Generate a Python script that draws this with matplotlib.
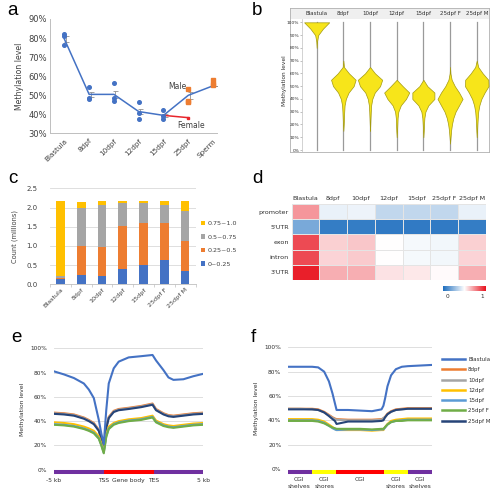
import numpy as np
import matplotlib.pyplot as plt
from matplotlib.colors import LinearSegmentedColormap
from matplotlib.lines import Line2D
from matplotlib.patches import Patch, Rectangle

plt.rcParams['font.family'] = 'DejaVu Sans'

W, H = 500, 493
fig = plt.figure(figsize=(5, 4.93), dpi=100)


def box(l, t, r, b):
    # pixel box -> figure fraction
    return [l / W, 1 - b / H, (r - l) / W, (b - t) / H]


def panel(x, y, s):
    fig.text(x / W, 1 - y / H, s, fontsize=13.5, family='Liberation Sans', va='baseline')


GRID = '#d9d9d9'
TXT = '#404040'

# ---------------- data ----------------
# a
a_stages = ['Blastula', '8dpf', '10dpf', '12dpf', '15dpf', '25dpf', 'Sperm']
a_mean = [79.5, 50.5, 50.5, 41.5, 39.5, 50.0, 55.0]
a_sem = [1.5, 1.2, 1.8, 1.2, 0.8, 2.0, 0.0]
a_reps_blue = [[82.0, 81.0, 76.5], [54.5, 48.5, 48.2], [56.6, 48.5, 47.0],
               [46.5, 40.6, 37.8], [42.3, 39.1, 37.8]]
a_reps_male = [[53.5, 46.5, 46.8], [57.8, 56.2, 55.2]]
a_female = 38.3

# b
b_samples = ['Blastula', '8dpf', '10dpf', '12dpf', '15dpf', '25dpf F', '25dpf M']
b_levels = [0, 5, 10, 15, 20, 25, 30, 35, 40, 45, 50, 55, 60, 65, 70, 75, 80, 85, 90, 95, 100]
b_width = [
    [0, 0, 0, 0, 0, 0, 0, 0, 0, 0, 0, 0, 0, 0, 0, 0, 0, 0.03, 0.12, 0.50, 1.0],
    [0, 0, 0, 0, 0.03, 0.05, 0.07, 0.10, 0.20, 0.42, 0.82, 0.98, 0.45, 0.05, 0, 0, 0, 0, 0, 0, 0],
    [0, 0, 0, 0, 0.02, 0.04, 0.06, 0.09, 0.18, 0.38, 0.80, 0.97, 0.40, 0, 0, 0, 0, 0, 0, 0, 0],
    [0, 0, 0, 0.03, 0.05, 0.07, 0.13, 0.33, 0.74, 1.0, 0.48, 0, 0, 0, 0, 0, 0, 0, 0, 0, 0],
    [0, 0, 0, 0.03, 0.05, 0.08, 0.16, 0.40, 0.88, 0.88, 0.32, 0, 0, 0, 0, 0, 0, 0, 0, 0, 0],
    [0, 0, 0.04, 0.08, 0.15, 0.26, 0.44, 0.72, 1.0, 0.72, 0.38, 0.13, 0.03, 0, 0, 0, 0, 0, 0, 0, 0],
    [0, 0, 0, 0.03, 0.05, 0.08, 0.12, 0.21, 0.37, 0.63, 0.94, 0.92, 0.48, 0.12, 0, 0, 0, 0, 0, 0, 0],
]

# c
c_samples = ['Blastula', '8dpf', '10dpf', '12dpf', '15dpf', '25dpf F', '25dpf M']
c_low = [0.13, 0.25, 0.22, 0.40, 0.49, 0.63, 0.34]
c_midlow = [0.035, 0.75, 0.74, 1.12, 1.11, 0.97, 0.79]
c_midhigh = [0.05, 0.98, 1.10, 0.61, 0.51, 0.46, 0.78]
c_high = [1.95, 0.17, 0.11, 0.04, 0.06, 0.11, 0.26]
c_labels = ['0~0.25', '0.25~0.5', '0.5~0.75', '0.75~1.0']

# d
d_cols = ['Blastula', '8dpf', '10dpf', '12dpf', '15dpf', '25dpf F', '25dpf M']
d_rows = ['promoter', "5'UTR", 'exon', 'intron', "3'UTR"]
d_vals = [
    [0.72, 0.45, 0.46, 0.36, 0.36, 0.36, 0.45],
    [0.20, 0.05, 0.05, 0.04, 0.04, 0.04, 0.05],
    [0.88, 0.60, 0.62, 0.50, 0.48, 0.47, 0.60],
    [0.88, 0.59, 0.61, 0.50, 0.48, 0.47, 0.59],
    [0.97, 0.67, 0.67, 0.56, 0.55, 0.51, 0.67],
]

# e / f
series = ['Blastula', '8dpf', '10dpf', '12dpf', '15dpf', '25dpf F', '25dpf M']
colors = ['#4472c4', '#ed7d31', '#a5a5a5', '#ffc000', '#5b9bd5', '#70ad47', '#264478']

e_pos = [0, 0.2, 0.4, 0.6, 0.7, 0.8, 0.9, 0.95, 1.0, 1.05, 1.1, 1.2, 1.3, 1.5, 1.75, 1.98,
         2.05, 2.2, 2.3, 2.4, 2.6, 2.8, 3.0]
e_vals = {
    'Blastula': [81, 78.5, 75.5, 71, 66, 59, 41, 30, 21, 49, 71, 83.5, 89, 92.5, 93.5, 94.5,
                 90, 82, 76, 74, 74.5, 77, 79],
    '8dpf': [47, 46.5, 45.5, 43, 41, 38.5, 33, 26, 17, 35, 43.5, 48.5, 50, 51, 52.5, 54.5,
             50, 46.5, 45, 44.5, 45.5, 46.5, 47],
    '10dpf': [46.5, 46, 45, 42.5, 40.5, 38, 32.5, 25.5, 16.5, 34.5, 43, 48, 49.5, 50.5, 52, 54,
              49.5, 46, 44.5, 44, 45, 46, 46.5],
    '12dpf': [39, 38.5, 37.5, 35.5, 34, 32, 27.5, 22, 15, 29, 35.5, 38.5, 40, 41.5, 42.5, 44.5,
              40.5, 37.5, 36.5, 36, 37, 38, 38.5],
    '15dpf': [37.5, 37, 36, 34, 32.5, 30.5, 26, 20.5, 14, 27.5, 34, 37.5, 39, 40.5, 41.5, 43.5,
              39.5, 36.5, 35.5, 35, 36, 37, 37.5],
    '25dpf F': [37, 36.5, 35.5, 33.5, 32, 30, 25.5, 20, 13.5, 27, 33.5, 37, 38.5, 40, 41, 43,
                39, 36, 35, 34.5, 35.5, 36.5, 37],
    '25dpf M': [46, 45.5, 44.5, 42, 40, 37.5, 32, 25, 16.5, 34, 42.5, 47.5, 49, 50, 51.5, 53.5,
                49, 45.5, 44, 43.5, 44.5, 45.5, 46],
}
e_bounds = [0, 1, 2, 3]
e_bar = ['#7030a0', '#ff0000', '#7030a0']
e_ticks = [0, 1, 1.5, 2, 3]
e_ticklabels = ['-5 kb', 'TSS', 'Gene body', 'TES', '5 kb']

f_pos = [0, 0.5, 1.0, 1.25, 1.5, 1.7, 1.85, 1.95, 2.02, 2.5, 3.0, 3.5, 3.9, 3.98,
         4.05, 4.15, 4.3, 4.5, 4.75, 5.0, 5.5, 6.0]
f_vals = {
    'Blastula': [84, 84, 84, 83.5, 80, 72, 62, 54, 48.5, 48.5, 48, 47.5, 49, 52,
                 58, 68, 77, 82, 84, 84.5, 85, 85.5],
    '8dpf': [49.5, 49.5, 49.5, 49, 47, 44.5, 42.5, 41.5, 41, 40.5, 40.5, 40.5, 41, 41.5,
             43, 45.5, 47.5, 49, 49.5, 50, 50, 50],
    '10dpf': [49.5, 49.5, 49, 48.5, 46.5, 44, 42, 41, 40.5, 40, 40, 40, 40.5, 42,
              42.5, 45, 47, 48.5, 49, 49.5, 49.5, 49.5],
    '12dpf': [41, 41, 41, 40.5, 39, 36.5, 34.5, 33, 32, 32, 32, 31.5, 32, 32,
              34.5, 37, 39.5, 40.5, 41, 41.5, 41.5, 41.5],
    '15dpf': [40, 40, 40, 39.5, 38, 35.5, 33.5, 32.5, 32, 32.5, 32.5, 32, 32.5, 32.5,
              34, 36.5, 38.5, 39.5, 40, 40.5, 40.5, 40.5],
    '25dpf F': [39.5, 39.5, 39.5, 39, 37.5, 35.5, 34, 33.5, 33, 33, 33, 32.5, 33, 33,
                34.5, 36.5, 38.5, 39.5, 39.5, 40, 40, 40],
    '25dpf M': [49, 49, 49, 48.5, 46.5, 43.5, 41, 39.5, 37, 39, 39, 39, 39.5, 40,
                42.5, 45, 47, 48.5, 49, 49.5, 49.5, 49.5],
}
f_bounds = [0, 1, 2, 4, 5, 6]
f_bar = ['#7030a0', '#ffff00', '#ff0000', '#ffff00', '#7030a0']
f_ticks = [0.45, 1.5, 3, 4.5, 5.5]
f_ticklabels = ['CGI\nshelves', 'CGI\nshores', 'CGI', 'CGI\nshores', 'CGI\nshelves']

# ---------------- a ----------------
ax = fig.add_axes(box(50, 19, 217, 133.5))
x = np.arange(len(a_stages))
ax.plot(x, a_mean, color='#4472c4', lw=1.1, zorder=2)
ax.plot([4, 5], [a_mean[4], a_female], color='#e8262c', lw=1.1, zorder=2)
ax.plot([5], [a_female], 's', color='#e8262c', ms=2, zorder=3)
ax.errorbar(x + 0.06, a_mean, yerr=a_sem, fmt='none', ecolor='#909090', elinewidth=0.6,
            capsize=1.8, capthick=0.6, zorder=1)
for i, reps in enumerate(a_reps_blue):
    ax.plot([i] * len(reps), reps, 'o', color='#4472c4', ms=2.6, zorder=3)
for i, reps in zip([5, 6], a_reps_male):
    ax.plot([i] * len(reps), reps, 's', color='#ed7d31', ms=2.4, zorder=3)
ax.text(4.93, 52.5, 'Male', fontsize=5.5, color=TXT, ha='right', va='bottom')
ax.text(5.1, 36.8, 'Female', fontsize=5.5, color=TXT, ha='center', va='top')
ax.set_xlim(-0.58, 6.16)
ax.set_ylim(30, 90)
ax.set_yticks(range(30, 91, 10))
ax.set_yticklabels([f'{v}%' for v in range(30, 91, 10)], fontsize=6, color=TXT)
ax.set_xticks(x)
ax.set_xticklabels(a_stages, rotation=45, ha='right', rotation_mode='anchor', fontsize=5.2,
                   color=TXT)
ax.tick_params(axis='y', length=0, pad=2)
ax.tick_params(axis='x', length=0, pad=3)
ax.set_ylabel('Methylation level', fontsize=5.6, color=TXT, labelpad=3)
for s in ['top', 'right']:
    ax.spines[s].set_visible(False)
for s in ['left', 'bottom']:
    ax.spines[s].set_color('#bfbfbf')
    ax.spines[s].set_linewidth(0.7)
panel(7, 15, 'a')

# ---------------- b ----------------
# outer frame with header strip
frame = fig.add_axes(box(290, 8, 489, 152.3))
frame.set_xlim(0, 7.46)
frame.set_ylim(0, 1)
frame.add_patch(Rectangle((0, 1 - 11 / 144.3), 7.46, 11 / 144.3, facecolor='#efefef',
                          edgecolor='none'))
for i, s in enumerate(b_samples):
    frame.text(i + 1, 1 - 5.5 / 144.3, s, fontsize=4, ha='center', va='center', color='#303030')
frame.set_xticks([])
frame.set_yticks([])
for s in frame.spines.values():
    s.set_color('#b0b0b0')
    s.set_linewidth(0.6)
frame.set_ylabel('Methylation level', fontsize=4.2, color='#303030', labelpad=2)

ax = fig.add_axes(box(302, 19, 489, 152.3))
ax.patch.set_alpha(0)
ax.set_xlim(0.45, 7.46)
ax.set_ylim(-1.8, 102.6)
lv = np.array(b_levels)
for i, w in enumerate(b_width):
    pos = i + 1
    ax.plot([pos, pos], [0, 100], color='#9a9a9a', lw=0.9, zorder=1)
    w = np.array(w) * 0.47
    nz = np.nonzero(w)[0]
    lo, hi = max(nz[0] - 1, 0), min(nz[-1] + 1, len(w) - 1)
    ax.fill_betweenx(lv[lo:hi + 1], pos - w[lo:hi + 1], pos + w[lo:hi + 1],
                     facecolor='#f7e51a', edgecolor='#a39a10', lw=0.5, zorder=2)
ax.set_yticks(range(0, 101, 10))
ax.set_yticklabels([f'{v}%' for v in range(0, 101, 10)], fontsize=3.2, color='#303030')
ax.tick_params(axis='y', length=1.2, width=0.4, pad=0.8, color='#909090')
ax.set_xticks([])
for s in ['top', 'right', 'bottom']:
    ax.spines[s].set_visible(False)
ax.spines['left'].set_color('#c0c0c0')
ax.spines['left'].set_linewidth(0.5)
panel(252, 15, 'b')

# ---------------- c ----------------
ax = fig.add_axes(box(50, 188.3, 195.5, 284.3))
xc = np.arange(len(c_samples))
bottom = np.zeros(len(xc))
c_colors = ['#4472c4', '#ed7d31', '#a5a5a5', '#ffc000']
for vals, col in zip([c_low, c_midlow, c_midhigh, c_high], c_colors):
    ax.bar(xc, vals, 0.42, bottom=bottom, color=col, zorder=2)
    bottom += np.array(vals)
ax.set_xlim(-0.5, 6.5)
ax.set_ylim(0, 2.5)
ax.set_yticks(np.arange(0, 2.51, 0.5))
ax.set_yticklabels([f'{v:.1f}' for v in np.arange(0, 2.51, 0.5)], fontsize=5, color=TXT)
ax.grid(axis='y', color=GRID, lw=0.6, zorder=0)
ax.set_xticks(xc)
ax.set_xticklabels(c_samples, rotation=45, ha='right', rotation_mode='anchor', fontsize=4.6,
                   color=TXT)
ax.tick_params(axis='y', length=0, pad=9)
ax.tick_params(axis='x', length=0, pad=2)
ax.set_xticks(np.arange(-0.5, 6.6, 1), minor=True)
ax.tick_params(axis='x', which='minor', length=2, color='#bfbfbf', width=0.5)
ax.set_ylabel('Count (millions)', fontsize=4.8, color=TXT, labelpad=6)
for s in ['top', 'right', 'left']:
    ax.spines[s].set_visible(False)
ax.spines['bottom'].set_color('#bfbfbf')
ax.spines['bottom'].set_linewidth(0.6)
handles = [Patch(facecolor=c) for c in c_colors][::-1]
fig.legend(handles, c_labels[::-1], loc='upper left', bbox_to_anchor=(201 / W, 1 - 221 / H),
           frameon=False, fontsize=4.6, handlelength=0.7, handleheight=0.7,
           handletextpad=0.3, labelspacing=1.25, borderpad=0, borderaxespad=0,
           labelcolor=TXT)
panel(8, 183, 'c')

# ---------------- d ----------------
cmap = LinearSegmentedColormap.from_list('bwr_d', ['#1f6fbf', '#ffffff', '#e8121e'])
ax = fig.add_axes(box(291.7, 204, 486, 280))
ax.pcolormesh(np.array(d_vals), cmap=cmap, vmin=0, vmax=1, edgecolors='#e4e4e4', linewidth=0.7)
ax.set_xlim(0, len(d_cols))
ax.set_ylim(len(d_rows), 0)
ax.xaxis.tick_top()
ax.set_xticks(np.arange(len(d_cols)) + 0.5)
ax.set_xticklabels(d_cols, fontsize=4.6, color='#303030')
ax.set_yticks(np.arange(len(d_rows)) + 0.5)
ax.set_yticklabels(d_rows, fontsize=4.6, color='#303030')
ax.tick_params(length=0, pad=2)
for s in ax.spines.values():
    s.set_visible(False)

cax = fig.add_axes(box(443, 286, 486, 291))
cax.imshow(np.linspace(0, 1, 200)[None, :], cmap=cmap, aspect='auto', extent=(-0.12, 1.12, 0, 1))
cax.set_yticks([])
cax.set_xticks([0, 1])
cax.set_xticklabels(['0', '1'], fontsize=4.2, color='#303030')
cax.tick_params(length=0, pad=2)
for s in cax.spines.values():
    s.set_visible(False)
panel(252, 183, 'd')


# ---------------- e / f ----------------
def profile(ax, pos, vals, bounds, barcols, ticks, ticklabels):
    order = ['8dpf', '10dpf', '25dpf M', '12dpf', '15dpf', '25dpf F', 'Blastula']
    for name in order:
        col = colors[series.index(name)]
        ax.plot(pos, vals[name], color=col, lw=1.5, zorder=3)
    for a, b, c in zip(bounds[:-1], bounds[1:], barcols):
        ax.plot([a, b], [-2.2, -2.2], color=c, lw=2.9, solid_capstyle='butt', clip_on=False)
    ax.set_xlim(bounds[0], bounds[-1])
    ax.set_ylim(0, 100)
    ax.set_yticks(range(0, 101, 20))
    ax.set_yticklabels([f'{v}%' for v in range(0, 101, 20)], fontsize=4.2, color='#303030')
    ax.grid(axis='y', color=GRID, lw=0.6, zorder=0)
    ax.set_xticks(ticks)
    ax.set_xticklabels(ticklabels, fontsize=4.3, color='#303030', va='top', linespacing=1.3)
    ax.tick_params(axis='y', length=0, pad=5)
    ax.tick_params(axis='x', length=0, pad=6)
    ax.set_ylabel('Methylation level', fontsize=4.4, color='#303030', labelpad=4)
    for s in ax.spines.values():
        s.set_visible(False)


ax = fig.add_axes(box(54, 348.3, 203.3, 469.7))
profile(ax, e_pos, e_vals, e_bounds, e_bar, e_ticks, e_ticklabels)
panel(11, 342, 'e')

ax = fig.add_axes(box(288.3, 347.3, 431.7, 469))
profile(ax, f_pos, f_vals, f_bounds, f_bar, f_ticks, f_ticklabels)
handles = [Line2D([], [], color=c, lw=1.8) for c in colors]
fig.legend(handles, series, loc='upper left', bbox_to_anchor=(442 / W, 1 - 357 / H),
           frameon=False, fontsize=4, handlelength=4.2, handletextpad=0.5,
           labelspacing=0.95, borderpad=0, borderaxespad=0, labelcolor='#303030')
panel(251, 342, 'f')

fig.savefig('out.png', dpi=100)
